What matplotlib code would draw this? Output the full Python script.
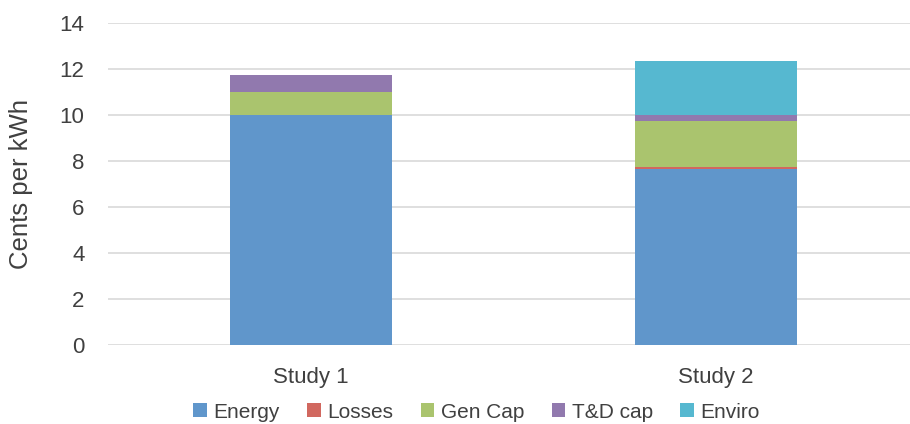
import matplotlib
matplotlib.use("Agg")
import matplotlib.pyplot as plt
import numpy as np

studies = ["Study 1", "Study 2"]
components = ["Energy", "Losses", "Gen Cap", "T&D cap", "Enviro"]
energy = [10.0, 7.64]
losses = [0.0, 0.1]
gen_cap = [1.0, 2.0]
td_cap = [0.75, 0.26]
enviro = [0.0, 2.35]

colors = ["#6096cb", "#d1685f", "#aac46e", "#9179ae", "#56b8d0"]
text_color = "#404040"

plt.rcParams["font.family"] = ["Liberation Sans", "DejaVu Sans"]

fig = plt.figure(figsize=(9.10, 4.24), dpi=100)
ax = fig.add_axes([108 / 910, 1 - 345 / 424, 810 / 910, 322 / 424])

x = np.arange(len(studies))
bottom = np.zeros(len(studies))
for name, vals, c in zip(components, [energy, losses, gen_cap, td_cap, enviro], colors):
    ax.bar(x, vals, width=0.4, bottom=bottom, color=c, label=name, zorder=3)
    bottom += np.array(vals)

ax.set_xlim(-0.5, 1.5)
ax.set_ylim(0, 14)
ax.set_yticks(np.arange(0, 15, 2))
ax.set_xticks(x)
ax.set_xticklabels(studies)
ax.grid(axis="y", color="#d9d9d9", linewidth=1.2, zorder=0)
for s in ax.spines.values():
    s.set_visible(False)
ax.tick_params(axis="both", length=0, labelsize=16, colors=text_color)
ax.tick_params(axis="y", pad=17)
ax.tick_params(axis="x", pad=16)
ax.set_ylabel("Cents per kWh", fontsize=18.5, color=text_color)
ax.yaxis.set_label_coords(-0.0926, 0.5)

leg = fig.legend(loc="center", bbox_to_anchor=(476.5 / 910, 1 - 412 / 424), ncol=5,
                 frameon=False, fontsize=15, handlelength=0.65, handleheight=0.65,
                 handletextpad=0.3, columnspacing=1.33, borderpad=0)
for t in leg.get_texts():
    t.set_color(text_color)

fig.savefig("out.png", dpi=100)
